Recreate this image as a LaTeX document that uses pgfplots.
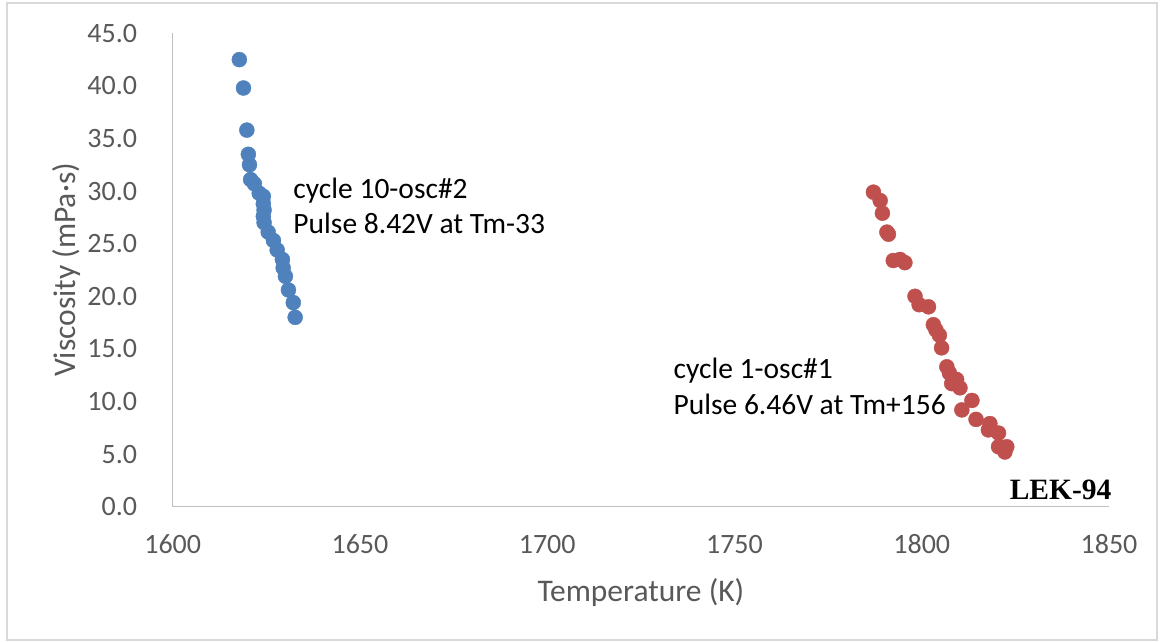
\documentclass[border=0pt]{standalone}
\usepackage{pgfplots}
\pgfplotsset{compat=1.18}
\usepackage{fontspec}
\setmainfont{Carlito}
\newfontfamily\timesfont{Liberation Serif}
\definecolor{bluept}{HTML}{4F81BD}
\definecolor{redpt}{HTML}{C0504D}
\definecolor{axgray}{HTML}{BFBFBF}
\definecolor{txtgray}{HTML}{595959}
\definecolor{border}{HTML}{D9D9D9}
\begin{document}
\begin{tikzpicture}
\useasboundingbox (0,0) rectangle (1161pt,642pt);
\fill[white] (0,0) rectangle (1161pt,642pt);
\draw[border, line width=1.5pt] (7pt,2pt) rectangle (1157pt,639pt);
\begin{axis}[
  at={(172.7pt,135.3pt)}, anchor=south west,
  scale only axis, width=936.3pt, height=473.4pt,
  xmin=1600, xmax=1850, ymin=0, ymax=45,
  axis x line=bottom, axis y line=left,
  axis line style={-, axgray, line width=1.5pt},
  xtick={1600,1650,...,1850}, ytick={0,5,...,45},
  major tick length=0pt,
  /pgf/number format/assume math mode=true,
  xticklabel style={/pgf/number format/1000 sep={}, font=\fontsize{28}{33}\selectfont, text=txtgray, anchor=base, inner sep=0pt, yshift=-47.3pt},
  yticklabel style={/pgf/number format/.cd, fixed, fixed zerofill, precision=1, /tikz/.cd, font=\fontsize{28}{33}\selectfont, text=txtgray, anchor=east, inner sep=0pt, xshift=-35.4pt},
  xlabel={Temperature (K)}, ylabel={Viscosity (mPa·s)},
  label style={font=\fontsize{31.5}{36}\selectfont, text=txtgray},
  xlabel style={at={(axis description cs:0.5,-0.2007)}, anchor=base, inner sep=0pt},
  ylabel style={at={(axis description cs:-0.1043,0.5)}, anchor=base, rotate=0, inner sep=0pt},
  clip=false,
]
\addplot[only marks, mark=*, mark size=7.5pt, mark options={draw=bluept, fill=bluept}] coordinates {
(1617.8,42.5) (1618.9,39.8) (1619.8,35.8) (1620.2,33.5) (1620.5,32.5) (1620.8,31.1)
(1621.8,30.7) (1623.1,29.8) (1624.2,29.5) (1624.2,28.8) (1624.4,28.2) (1624.2,27.6)
(1624.4,27.0) (1625.5,26.1) (1626.9,25.3) (1627.9,24.4) (1629.3,23.5) (1629.5,22.7)
(1630.1,21.9) (1630.9,20.6) (1632.2,19.4) (1632.7,18.0)
};
\addplot[only marks, mark=*, mark size=7.5pt, mark options={draw=redpt, fill=redpt}] coordinates {
(1787.1,29.9) (1788.9,29.1) (1789.5,27.9) (1790.7,26.1) (1791.1,25.9) (1792.4,23.4)
(1794.2,23.5) (1795.5,23.2) (1798.2,20.0) (1799.3,19.2) (1801.8,19.0) (1803.1,17.3)
(1803.8,16.8) (1804.7,16.3) (1805.3,15.1) (1806.7,13.3) (1807.4,12.7) (1809.3,12.1)
(1808.0,11.7) (1810.2,11.3) (1813.4,10.1) (1810.7,9.2) (1814.5,8.3) (1818.2,7.9)
(1817.8,7.3) (1820.5,7.0) (1820.5,5.7) (1822.7,5.7) (1822.2,5.2)
};
\node[anchor=base west, inner sep=0pt, font=\fontsize{29.5}{34}\selectfont] at (axis cs:1632.2,29.32) {cycle 10-osc\#2};
\node[anchor=base west, inner sep=0pt, font=\fontsize{29.5}{34}\selectfont] at (axis cs:1632.2,25.99) {Pulse 8.42V at Tm-33};
\node[anchor=base west, inner sep=0pt, font=\fontsize{29.5}{34}\selectfont] at (axis cs:1733.7,12.2) {cycle 1-osc\#1};
\node[anchor=base west, inner sep=0pt, font=\fontsize{29.5}{34}\selectfont] at (axis cs:1733.7,8.81) {Pulse 6.46V at Tm+156};
\node[anchor=base east, inner sep=0pt, font=\timesfont\bfseries\fontsize{29.5}{34}\selectfont] at (axis cs:1850.7,0.70) {LEK-94};
\end{axis}
\end{tikzpicture}
\end{document}
